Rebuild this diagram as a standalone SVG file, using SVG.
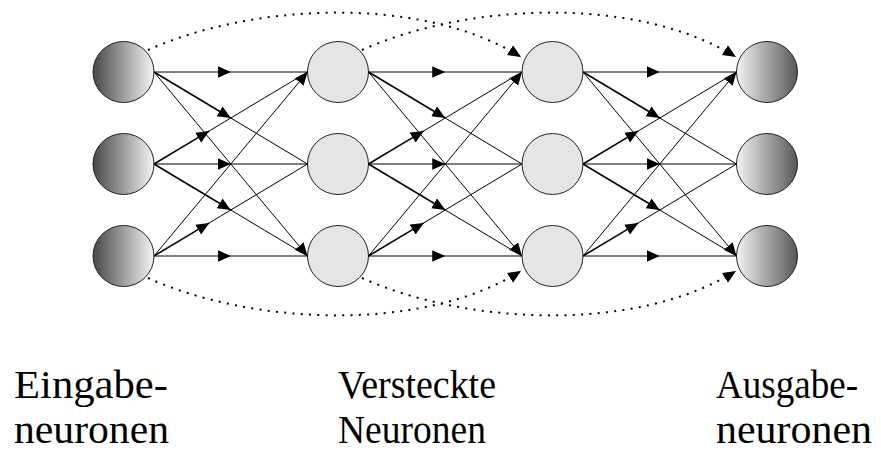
<svg xmlns="http://www.w3.org/2000/svg" width="881" height="452" viewBox="0 0 881 452">
  <style>
    .in { fill: url(#gIn); stroke: #222; stroke-width: 1; }
    .hid { fill: #e5e5e5; stroke: #222; stroke-width: 1; }
    .out { fill: url(#gOut); stroke: #222; stroke-width: 1; }
    .ln { fill: none; stroke: #000; stroke-width: 1; }
    .lead { fill: none; stroke: #000; stroke-width: 1.5; }
    .arr { marker-end: url(#head); }
    .dot { fill: none; stroke: #000; stroke-width: 2; stroke-dasharray: 2 6.3; marker-end: url(#head); }
    .lbl { font-family: "Liberation Serif", "Times New Roman", serif; font-size: 41px; fill: #000; }
  </style>
  <defs>
    <linearGradient id="gIn" x1="0" y1="0" x2="1" y2="0">
      <stop offset="0" stop-color="#474747"/>
      <stop offset="1" stop-color="#f4f4f4"/>
    </linearGradient>
    <linearGradient id="gOut" x1="0" y1="0" x2="1" y2="0">
      <stop offset="0" stop-color="#f4f4f4"/>
      <stop offset="1" stop-color="#565656"/>
    </linearGradient>
    <marker id="head" markerUnits="userSpaceOnUse" markerWidth="15" markerHeight="13" refX="13" refY="5.75" orient="auto">
      <path d="M0,0 L13,5.75 L0,11.5 z" fill="#000"/>
    </marker>
  </defs>

  <!-- input layer -->
  <g id="in1"><circle class="in" cx="123.5" cy="72" r="30.5"/></g>
  <g id="in2"><circle class="in" cx="123.5" cy="164" r="30.5"/></g>
  <g id="in3"><circle class="in" cx="123.5" cy="256" r="30.5"/></g>

  <!-- first hidden layer -->
  <g id="h1a"><circle class="hid" cx="338" cy="72" r="30.5"/></g>
  <g id="h1b"><circle class="hid" cx="338" cy="164" r="30.5"/></g>
  <g id="h1c"><circle class="hid" cx="338" cy="256" r="30.5"/></g>

  <!-- second hidden layer -->
  <g id="h2a"><circle class="hid" cx="552.5" cy="72" r="30.5"/></g>
  <g id="h2b"><circle class="hid" cx="552.5" cy="164" r="30.5"/></g>
  <g id="h2c"><circle class="hid" cx="552.5" cy="256" r="30.5"/></g>

  <!-- output layer -->
  <g id="out1"><circle class="out" cx="767" cy="72" r="30.5"/></g>
  <g id="out2"><circle class="out" cx="767" cy="164" r="30.5"/></g>
  <g id="out3"><circle class="out" cx="767" cy="256" r="30.5"/></g>

  <g id="connectors">
    <!-- input -> hidden 1 -->
    <g id="stage1">
      <path class="ln arr" d="M154,72 L230.75,72"/><path class="ln" d="M230.75,72 L307.5,72"/>
      <path class="lead arr" d="M154,72 L230.75,118"/><path class="ln" d="M230.75,118 L307.5,164"/>
      <path class="ln arr" d="M154,72 L307.5,256"/>
      <path class="lead arr" d="M154,164 L209.3,130.9"/><path class="ln" d="M209.3,130.9 L307.5,72"/>
      <path class="ln arr" d="M154,164 L230.75,164"/><path class="ln" d="M230.75,164 L307.5,164"/>
      <path class="lead arr" d="M154,164 L230.75,210"/><path class="ln" d="M230.75,210 L307.5,256"/>
      <path class="ln arr" d="M154,256 L307.5,72"/>
      <path class="lead arr" d="M154,256 L209.3,222.9"/><path class="ln" d="M209.3,222.9 L307.5,164"/>
      <path class="ln arr" d="M154,256 L230.75,256"/><path class="ln" d="M230.75,256 L307.5,256"/>
    </g>
    <!-- hidden 1 -> hidden 2 -->
    <g id="stage2">
      <path class="ln arr" d="M368.5,72 L445.25,72"/><path class="ln" d="M445.25,72 L522,72"/>
      <path class="lead arr" d="M368.5,72 L445.25,118"/><path class="ln" d="M445.25,118 L522,164"/>
      <path class="ln arr" d="M368.5,72 L522,256"/>
      <path class="lead arr" d="M368.5,164 L423.8,130.9"/><path class="ln" d="M423.8,130.9 L522,72"/>
      <path class="ln arr" d="M368.5,164 L445.25,164"/><path class="ln" d="M445.25,164 L522,164"/>
      <path class="lead arr" d="M368.5,164 L445.25,210"/><path class="ln" d="M445.25,210 L522,256"/>
      <path class="ln arr" d="M368.5,256 L522,72"/>
      <path class="lead arr" d="M368.5,256 L423.8,222.9"/><path class="ln" d="M423.8,222.9 L522,164"/>
      <path class="ln arr" d="M368.5,256 L445.25,256"/><path class="ln" d="M445.25,256 L522,256"/>
    </g>
    <!-- hidden 2 -> output -->
    <g id="stage3">
      <path class="ln arr" d="M583,72 L659.75,72"/><path class="ln" d="M659.75,72 L736.5,72"/>
      <path class="lead arr" d="M583,72 L659.75,118"/><path class="ln" d="M659.75,118 L736.5,164"/>
      <path class="ln arr" d="M583,72 L736.5,256"/>
      <path class="lead arr" d="M583,164 L638.3,130.9"/><path class="ln" d="M638.3,130.9 L736.5,72"/>
      <path class="ln arr" d="M583,164 L659.75,164"/><path class="ln" d="M659.75,164 L736.5,164"/>
      <path class="lead arr" d="M583,164 L659.75,210"/><path class="ln" d="M659.75,210 L736.5,256"/>
      <path class="ln arr" d="M583,256 L736.5,72"/>
      <path class="lead arr" d="M583,256 L638.3,222.9"/><path class="ln" d="M638.3,222.9 L736.5,164"/>
      <path class="ln arr" d="M583,256 L659.75,256"/><path class="ln" d="M659.75,256 L736.5,256"/>
    </g>
    <!-- skip connections (dotted) -->
    <g id="skips">
      <path class="dot" d="M148,50 C250,4 420,-6 521,57"/>
      <path class="dot" d="M362,50 C464,4 634,-6 736,57"/>
      <path class="dot" d="M148,278 C250,324 420,334 521,271"/>
      <path class="dot" d="M362,278 C464,324 634,334 736,271"/>
    </g>
  </g>

  <!-- layer captions -->
  <g id="labels">
    <text class="lbl" x="14" y="398" textLength="154" lengthAdjust="spacingAndGlyphs">Eingabe-</text>
    <text class="lbl" x="14" y="443" textLength="155" lengthAdjust="spacingAndGlyphs">neuronen</text>
    <text class="lbl" x="338" y="398" textLength="158" lengthAdjust="spacingAndGlyphs">Versteckte</text>
    <text class="lbl" x="338" y="443" textLength="148" lengthAdjust="spacingAndGlyphs">Neuronen</text>
    <text class="lbl" x="716" y="398" textLength="142" lengthAdjust="spacingAndGlyphs">Ausgabe-</text>
    <text class="lbl" x="716" y="443" textLength="156" lengthAdjust="spacingAndGlyphs">neuronen</text>
  </g>
</svg>
